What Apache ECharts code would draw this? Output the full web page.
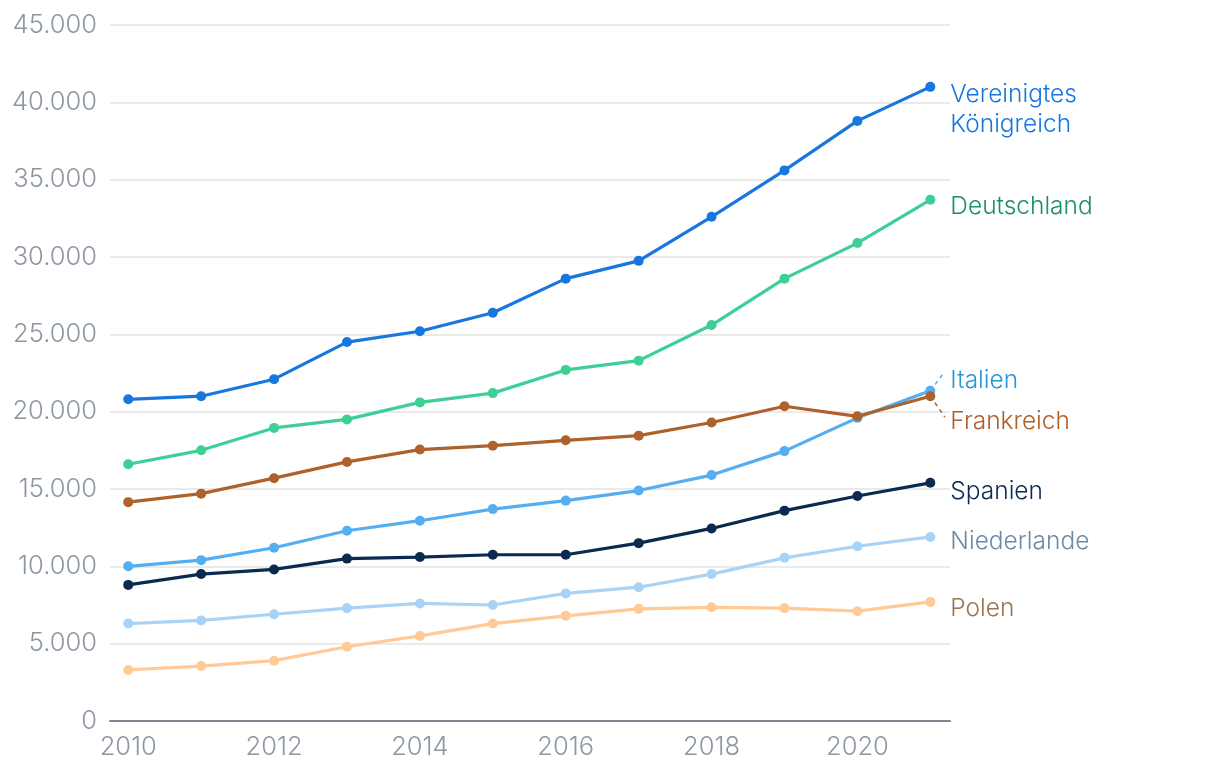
<!DOCTYPE html>
<html><head><meta charset="utf-8">
<script src="https://cdn.jsdelivr.net/npm/echarts@6/dist/echarts.min.js"></script>
<style>html,body{margin:0;padding:0;background:#fff}#c{width:1220px;height:774px}</style>
</head><body><div id="c"></div>
<script>
const years = [2010,2011,2012,2013,2014,2015,2016,2017,2018,2019,2020,2021];
const yearTicks = [2010,2012,2014,2016,2018,2020];
const seriesNames = ['Polen','Niederlande','Spanien','Italien','Frankreich','Deutschland','Vereinigtes Königreich'];
const polen = [3300,3550,3900,4800,5500,6300,6800,7250,7350,7300,7100,7700];
const niederlande = [6300,6500,6900,7300,7600,7500,8250,8650,9500,10550,11300,11900];
const spanien = [8800,9500,9800,10500,10600,10750,10750,11500,12450,13600,14550,15400];
const italien = [10000,10400,11200,12300,12950,13700,14250,14900,15900,17450,19600,21350];
const frankreich = [14150,14700,15700,16750,17550,17800,18150,18450,19300,20350,19700,21000];
const deutschland = [16600,17500,18950,19500,20600,21200,22700,23300,25600,28600,30900,33700];
const vk = [20800,21000,22100,24500,25200,26400,28600,29750,32600,35600,38800,41000];
const values = [polen,niederlande,spanien,italien,frankreich,deutschland,vk];

const lineColors = ['#ffca96','#a8d3f7','#0a2a4f','#55aef1','#ae612a','#3dcf95','#1877de'];
const labelColors = ['#9b7450','#6a8aa8','#0a2a4f','#2a94d8','#ae612a','#1a9160','#1877de'];
const labelOffsets = [[14,7],[14,5],[14,9],[14,-10],[14,25],[14,7],[14,23]];
const labelText = ['Polen','Niederlande','Spanien','Italien','Frankreich','Deutschland','Vereinigtes\nKönigreich'];

const FONT = 'Inter, "Noto Sans", sans-serif';
const series = seriesNames.map((name,i)=>{
  const s = {
    name, type:'line',
    data: years.map((y,j)=>[y, values[i][j]]),
    symbol:'circle', symbolSize:10,
    lineStyle:{width:3.2,color:lineColors[i]},
    itemStyle:{color:lineColors[i]},
    z: 2+i,
    endLabel:{show:true, formatter:()=>labelText[i], color:labelColors[i],
      fontFamily:FONT, fontSize:24.5, fontWeight:300, lineHeight:30, offset:labelOffsets[i], distance:6},
    emphasis:{disabled:true}, animation:false
  };
  if (name==='Italien') {
    s.markLine = {symbol:'none', silent:true, animation:false, label:{show:false},
      lineStyle:{type:[4,4], width:1.5, color:lineColors[i]},
      data:[[{coord:[2021, 21350]},{coord:[2021.2, 22600]}]]};
  }
  if (name==='Frankreich') {
    s.markLine = {symbol:'none', silent:true, animation:false, label:{show:false},
      lineStyle:{type:[4,4], width:1.5, color:lineColors[i]},
      data:[[{coord:[2021, 21000]},{coord:[2021.2, 19650]}]]};
  }
  return s;
});

const chart = echarts.init(document.getElementById('c'), null, {renderer:'canvas'});
chart.setOption({
  backgroundColor:'#fff',
  animation:false,
  grid:{left:110, right:270, top:25, bottom:53, containLabel:false},
  xAxis:{type:'value', min:2009.75, max:2021.27,
    axisLine:{show:true, lineStyle:{color:'#7d8590', width:2}},
    axisTick:{show:false},
    splitLine:{show:false},
    axisLabel:{customValues:yearTicks, formatter:v=>String(v), color:'#8d97a3',
      fontFamily:FONT, fontSize:25.5, fontWeight:300, margin:13}
  },
  yAxis:{type:'value', min:0, max:45000, interval:5000,
    axisLine:{show:false}, axisTick:{show:false},
    splitLine:{lineStyle:{color:'#e3e3e3', width:1.5}},
    axisLabel:{formatter:v=>String(v).replace(/\B(?=(\d{3})+(?!\d))/g,'.'), color:'#8d97a3',
      fontFamily:FONT, fontSize:25.5, fontWeight:300, margin:13}
  },
  series
});
</script></body></html>
